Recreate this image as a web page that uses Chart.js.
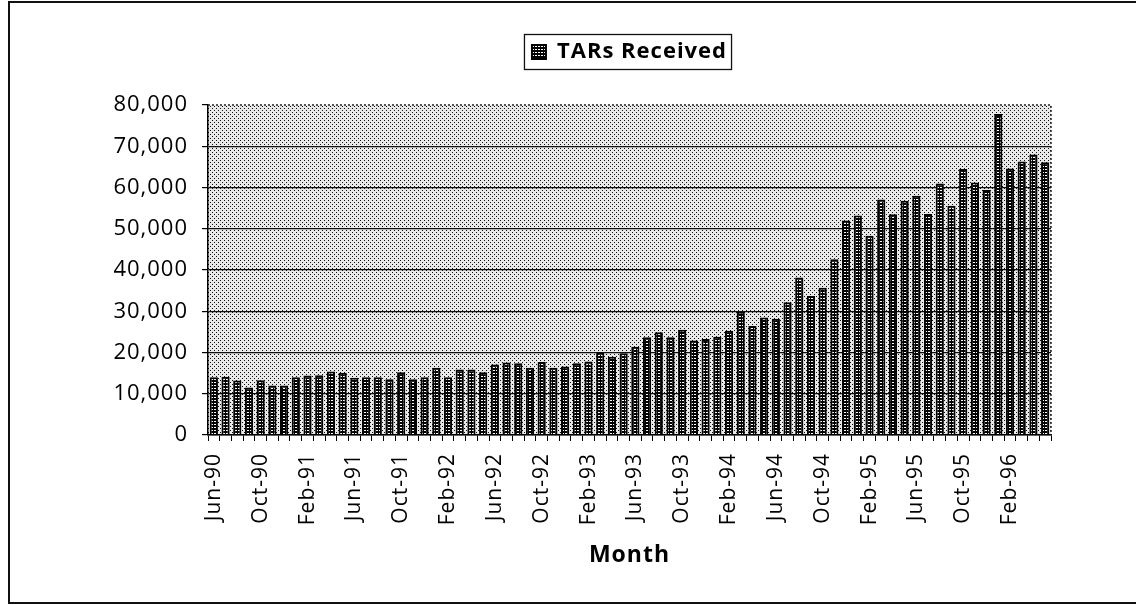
<!DOCTYPE html>
<html>
<head>
<meta charset="utf-8">
<script src="https://cdn.jsdelivr.net/npm/chart.js@4.4.1/dist/chart.umd.min.js"></script>
<style>
  html, body { margin: 0; padding: 0; background: #fff; }
  #wrap { position: relative; width: 1136px; height: 605px; }
  #myChart { position: absolute; left: 0; top: 0; }
  #frame {
    position: absolute; left: 8px; top: 1px; width: 1130px; height: 603px;
    border: 2px solid #111; box-sizing: border-box; pointer-events: none;
  }
</style>
</head>
<body>
<div id="wrap">
  <canvas id="myChart" width="1136" height="605"></canvas>
  <div id="frame"></div>
</div>
<script>
const months = [
  'Jun-90', 'Jul-90', 'Aug-90', 'Sep-90', 'Oct-90', 'Nov-90', 'Dec-90',
  'Jan-91', 'Feb-91', 'Mar-91', 'Apr-91', 'May-91', 'Jun-91', 'Jul-91', 'Aug-91', 'Sep-91', 'Oct-91', 'Nov-91', 'Dec-91',
  'Jan-92', 'Feb-92', 'Mar-92', 'Apr-92', 'May-92', 'Jun-92', 'Jul-92', 'Aug-92', 'Sep-92', 'Oct-92', 'Nov-92', 'Dec-92',
  'Jan-93', 'Feb-93', 'Mar-93', 'Apr-93', 'May-93', 'Jun-93', 'Jul-93', 'Aug-93', 'Sep-93', 'Oct-93', 'Nov-93', 'Dec-93',
  'Jan-94', 'Feb-94', 'Mar-94', 'Apr-94', 'May-94', 'Jun-94', 'Jul-94', 'Aug-94', 'Sep-94', 'Oct-94', 'Nov-94', 'Dec-94',
  'Jan-95', 'Feb-95', 'Mar-95', 'Apr-95', 'May-95', 'Jun-95', 'Jul-95', 'Aug-95', 'Sep-95', 'Oct-95', 'Nov-95', 'Dec-95',
  'Jan-96', 'Feb-96', 'Mar-96', 'Apr-96', 'May-96'
];

// labels shown under the axis (every 4th month)
const shownTicks = [
  'Jun-90', 'Oct-90', 'Feb-91', 'Jun-91', 'Oct-91', 'Feb-92', 'Jun-92', 'Oct-92', 'Feb-93',
  'Jun-93', 'Oct-93', 'Feb-94', 'Jun-94', 'Oct-94', 'Feb-95', 'Jun-95', 'Oct-95', 'Feb-96'
];

const tarsReceived = [
  14000, 14100, 13200, 11500, 13300, 12000, 12000, 14000, 14400, 14500, 15400, 15100,
  13900, 14000, 14000, 13500, 15200, 13500, 14000, 16300, 14000, 15900, 15900, 15200,
  17100, 17600, 17400, 16300, 17700, 16300, 16600, 17400, 17800, 20000, 19000, 19800,
  21400, 23700, 24900, 23700, 25500, 22900, 23300, 23800, 25300, 29900, 26400, 28500,
  28200, 32200, 38200, 33700, 35700, 42600, 52000, 53200, 48300, 57100, 53500, 56800,
  58000, 53600, 61000, 55600, 64500, 61200, 59400, 77800, 64600, 66300, 68000, 66100
];

const yTicks = [0, 10000, 20000, 30000, 40000, 50000, 60000, 70000, 80000];

// stippled plot background
function makeStipple() {
  const c = document.createElement('canvas');
  c.width = 4;
  c.height = 4;
  const g = c.getContext('2d');
  g.fillStyle = '#e9e9e9';
  g.fillRect(0, 0, 4, 4);
  g.fillStyle = '#111';
  g.fillRect(0, 0, 1, 1);
  g.fillRect(2, 2, 1, 1);
  return g.createPattern(c, 'repeat');
}

// ladder-like bar fill
function makeBarFill() {
  const c = document.createElement('canvas');
  c.width = 3;
  c.height = 3;
  const g = c.getContext('2d');
  g.fillStyle = '#000';
  g.fillRect(0, 0, 3, 3);
  g.fillStyle = '#fff';
  g.fillRect(1, 1, 2, 1);
  return g.createPattern(c, 'repeat');
}

const ctx = document.getElementById('myChart').getContext('2d');
const stipple = makeStipple();
const barFill = makeBarFill();

const plotDecor = {
  id: 'plotDecor',
  beforeUpdate(chart) {
    chart.ctx.letterSpacing = '1px';
  },
  beforeDraw(chart) {
    const a = chart.chartArea;
    const c = chart.ctx;
    c.letterSpacing = '1px';
    c.save();
    c.fillStyle = stipple;
    c.fillRect(a.left, a.top, a.right - a.left, a.bottom - a.top);
    c.restore();
  },
  afterDraw(chart) {
    const a = chart.chartArea;
    const c = chart.ctx;
    c.save();
    c.strokeStyle = '#222';
    c.lineWidth = 1.5;
    c.setLineDash([2, 2]);
    c.beginPath();
    c.moveTo(a.left, a.top);
    c.lineTo(a.right, a.top);
    c.lineTo(a.right, a.bottom);
    c.stroke();
    c.setLineDash([]);
    // frame around the legend
    const hb = chart.legend.legendHitBoxes[0];
    if (hb) {
      c.lineWidth = 1.3;
      c.strokeStyle = '#111';
      c.strokeRect(hb.left - 7.5, hb.top - 6.5, hb.width + 12, hb.height + 13);
    }
    c.restore();
  }
};

const myChart = new Chart(ctx, {
  type: 'bar',
  data: {
    labels: months,
    datasets: [
      {
        label: 'TARs Received',
        data: tarsReceived,
        backgroundColor: barFill,
        borderColor: '#000',
        borderWidth: 2,
        categoryPercentage: 1,
        barPercentage: 0.7,
      },
    ],
  },
  options: {
    responsive: false,
    animation: false,
    devicePixelRatio: 1,
    layout: {
      padding: { left: 60, right: 85, top: 31, bottom: 36 },
    },
    plugins: {
      legend: {
        position: 'top',
        fullSize: false,
        labels: {
          color: '#000',
          font: { family: 'Open Sans', size: 22, weight: 'bold' },
          boxWidth: 14,
          boxHeight: 14,
          padding: 10,
        },
      },
      tooltip: { enabled: false },
    },
    scales: {
      x: {
        afterFit(scale) {
          scale.height = 134;
        },
        grid: {
          display: true,
          drawOnChartArea: false,
          offset: true,
          tickLength: 6,
          tickColor: '#000',
          lineWidth: 1,
        },
        border: { display: true, color: '#000', width: 1.5 },
        ticks: {
          autoSkip: false,
          minRotation: 90,
          maxRotation: 90,
          padding: 12,
          color: '#000',
          font: { family: 'Open Sans', size: 21 },
          callback: function (value, index) {
            const lab = months[index];
            return shownTicks.includes(lab) ? lab : '';
          },
        },
        title: {
          display: true,
          text: 'Month',
          color: '#000',
          font: { family: 'Open Sans', size: 23, weight: 'bold' },
          padding: { top: 0, bottom: 0 },
        },
      },
      y: {
        min: 0,
        max: 80000,
        afterFit(scale) {
          scale.width = 148;
        },
        afterBuildTicks(scale) {
          scale.ticks = yTicks.map(v => ({ value: v }));
        },
        grid: {
          color: c => (c.tick && c.tick.value === 80000 ? 'rgba(0,0,0,0)' : '#111'),
          tickColor: '#000',
          tickLength: 6,
          lineWidth: 1.2,
        },
        border: { display: true, color: '#000', width: 1.5 },
        ticks: {
          padding: 14,
          color: '#000',
          font: { family: 'Open Sans', size: 22 },
          callback: v => v.toLocaleString('en-US'),
        },
      },
    },
  },
  plugins: [plotDecor],
});

// leave extra room between the legend and the plot area
const legendFit = myChart.legend.fit;
myChart.legend.fit = function () {
  legendFit.call(this);
  this.height += 32;
};
myChart.update();
</script>
</body>
</html>
